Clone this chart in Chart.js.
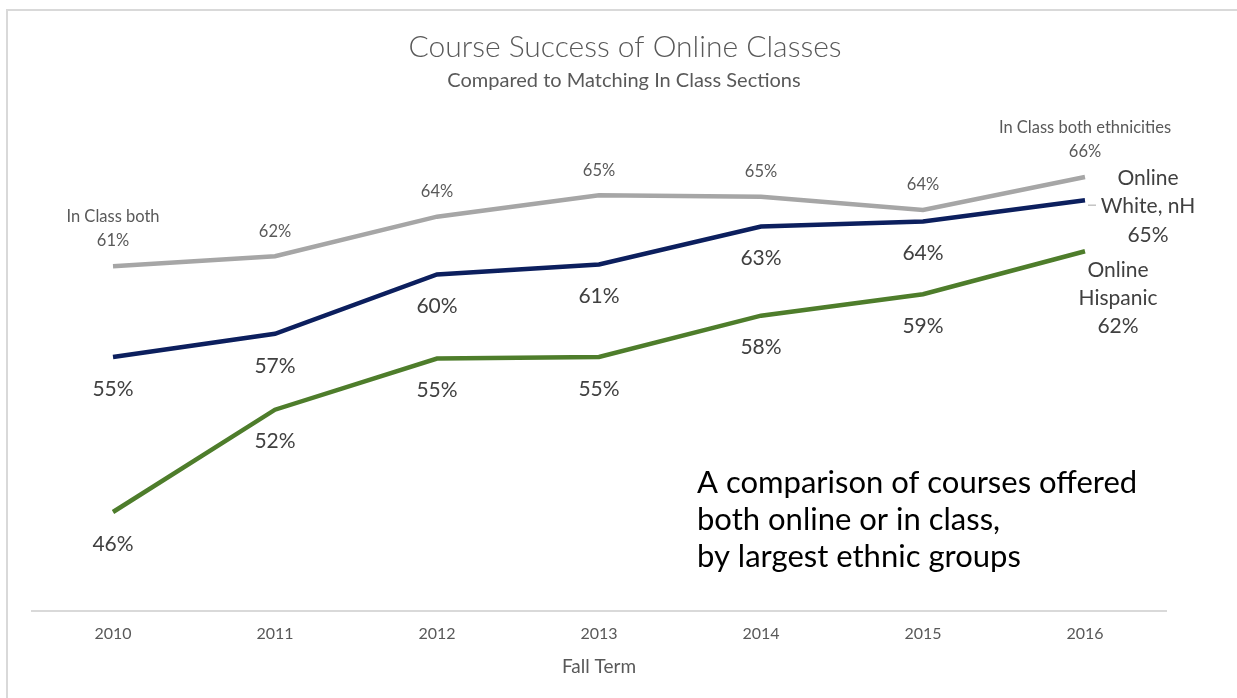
<!DOCTYPE html>
<html>
<head>
<meta charset="utf-8">
<script src="https://cdn.jsdelivr.net/npm/chart.js@4.4.0/dist/chart.umd.min.js"></script>
<style>
  body { margin: 0; background: #fff; }
  #wrap { position: absolute; left: 0; top: 0; width: 1237px; height: 698px; }
  #frame { position: absolute; left: 6px; top: 9px; width: 1300px; height: 800px;
           border-top: 2px solid #d9d9d9; border-left: 2px solid #d9d9d9; }
</style>
</head>
<body>
<div id="wrap">
  <div id="frame"></div>
  <canvas id="linechart" width="1237" height="698"></canvas>
</div>
<script>
// data (percent)
const years = ['2010', '2011', '2012', '2013', '2014', '2015', '2016'];
const inClassBoth = [60.9, 61.5, 63.9, 65.2, 65.1, 64.3, 66.3];
const onlineWhite = [55.4, 56.8, 60.4, 61.0, 63.3, 63.6, 64.9];
const onlineHispanic = [46.0, 52.2, 55.3, 55.4, 57.9, 59.2, 61.8];

const font = 'Lato, "Open Sans", sans-serif';

// draws the percent labels next to each point
const labelPlugin = {
    id: 'pointLabels',
    afterDatasetsDraw(chart) {
        const ctx = chart.ctx;
        ctx.save();
        ctx.textAlign = 'center';
        ctx.textBaseline = 'middle';
        chart.data.datasets.forEach(function(ds, i) {
            const meta = chart.getDatasetMeta(i);
            const lab = ds.labelOpts;
            meta.data.forEach(function(pt, j) {
                const txt = Math.round(ds.data[j]) + '%';
                ctx.fillStyle = lab.color;
                ctx.font = lab.size + 'px ' + font;
                const last = j === ds.data.length - 1;
                if (last && lab.endLines) {
                    const lines = lab.endLines.concat([txt]);
                    lines.forEach(function(l, k) {
                        ctx.fillText(l, pt.x + lab.endDx, pt.y + lab.endDy + k * lab.endGap);
                    });
                    if (lab.leader) {
                        ctx.strokeStyle = '#a6a6a6';
                        ctx.lineWidth = 1;
                        ctx.beginPath();
                        ctx.moveTo(pt.x + 3, pt.y + 5);
                        ctx.lineTo(pt.x + 11, pt.y + 5);
                        ctx.stroke();
                    }
                    return;
                }
                ctx.fillText(txt, pt.x, pt.y + lab.dy);
                if (lab.nameAt && lab.nameAt[j]) {
                    ctx.fillText(lab.nameAt[j], pt.x, pt.y + lab.dy - 24);
                }
            });
        });
        ctx.restore();
    }
};

// title, subtitle and the note in the lower right
const textPlugin = {
    id: 'texts',
    afterDraw(chart) {
        const ctx = chart.ctx;
        ctx.save();
        ctx.textBaseline = 'middle';
        ctx.textAlign = 'center';
        ctx.fillStyle = '#595959';
        ctx.font = '300 30px ' + font;
        ctx.fillText('Course Success of Online Classes', 625, 47);
        ctx.font = '20px ' + font;
        ctx.fillText('Compared to Matching In Class Sections', 624, 81);
        ctx.textAlign = 'left';
        ctx.fillStyle = '#000';
        ctx.font = '31px ' + font;
        ctx.fillText('A comparison of courses offered', 697, 483);
        ctx.fillText('both online or in class,', 697, 520);
        ctx.fillText('by largest ethnic groups', 697, 557);
        ctx.restore();
    }
};

const chart_data = {
    labels: years,
    datasets: [{
        label: 'In Class both ethnicities',
        data: inClassBoth,
        borderColor: '#a6a6a6',
        borderWidth: 4.5,
        pointRadius: 0,
        tension: 0,
        labelOpts: { color: '#595959', size: 16.5, dy: -25,
                     nameAt: { 0: 'In Class both', 6: 'In Class both ethnicities' } }
    }, {
        label: 'Online White, nH',
        data: onlineWhite,
        borderColor: '#0c1f5e',
        borderWidth: 4.5,
        pointRadius: 0,
        tension: 0,
        labelOpts: { color: '#404040', size: 21, dy: 32,
                     endLines: ['Online', 'White, nH'], endDx: 63, endDy: -22, endGap: 28.5, leader: true }
    }, {
        label: 'Online Hispanic',
        data: onlineHispanic,
        borderColor: '#4e7d2b',
        borderWidth: 4.5,
        pointRadius: 0,
        tension: 0,
        labelOpts: { color: '#404040', size: 21, dy: 32,
                     endLines: ['Online', 'Hispanic'], endDx: 33, endDy: 19, endGap: 28 }
    }]
};

const config = {
    type: 'line',
    data: chart_data,
    options: {
        responsive: false,
        animation: false,
        layout: { padding: { top: 116, left: 32, right: 71, bottom: 20 } },
        plugins: { legend: { display: false }, tooltip: { enabled: false } },
        scales: {
            x: {
                offset: true,
                afterFit: function(scale) { scale.height = 67; },
                grid: { display: false, drawTicks: false },
                border: { display: true, color: '#d9d9d9', width: 2 },
                ticks: { padding: 13, color: '#595959', font: { family: font, size: 16 } },
                title: { display: true, text: 'Fall Term', color: '#595959',
                         font: { family: font, size: 19 }, padding: { top: 0, bottom: 0 } }
            },
            y: { display: false, min: 40, max: 70 }
        }
    },
    plugins: [labelPlugin, textPlugin]
};

const linechart = new Chart(document.getElementById('linechart'), config);
</script>
</body>
</html>
